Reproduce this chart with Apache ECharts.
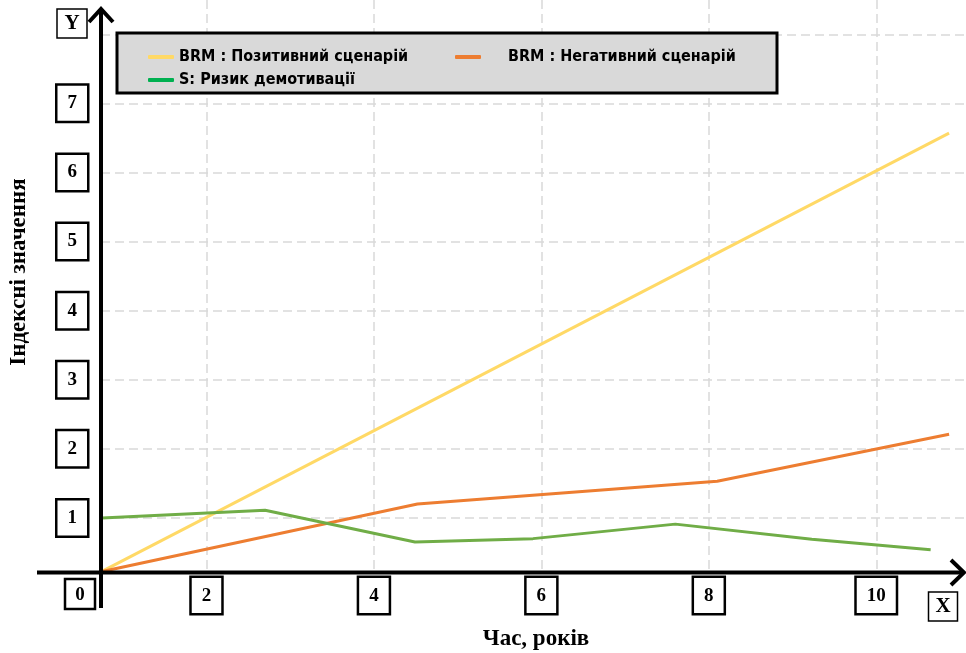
<!DOCTYPE html>
<html>
<head>
<meta charset="utf-8">
<script src="https://cdn.jsdelivr.net/npm/echarts@6/dist/echarts.min.js"></script>
<style>html,body{margin:0;padding:0;background:#fff;}#c{width:966px;height:653px;}</style>
</head>
<body>
<div id="c"></div>
<script>
// ---- data ----
const seriesNames = ['BRM : Позитивний сценарій', 'BRM : Негативний сценарій', 'S: Ризик демотивації'];
const positiveX = [0.74, 10.87];
const positiveY = [0.22, 6.57];
const negativeX = [0.74, 4.52, 8.10, 10.87];
const negativeY = [0.22, 1.20, 1.53, 2.21];
const riskX = [0.75, 2.70, 4.49, 5.90, 7.60, 9.23, 10.65];
const riskY = [1.00, 1.11, 0.65, 0.70, 0.91, 0.69, 0.54];
const xTickLabels = [2, 4, 6, 8, 10];
const yTickLabels = [1, 2, 3, 4, 5, 6, 7];
const xTitle = 'Час, років';
const yTitle = 'Індексні значення';

const pairs = (xs, ys) => xs.map((x, i) => [x, ys[i]]);
const serif = '"Liberation Serif", "Times New Roman", serif';
const narrow = '"Liberation Sans Narrow", "DejaVu Sans Condensed", "Liberation Sans", sans-serif';

const boxLabel = {
  fontFamily: serif, fontWeight: 'bold', fontSize: 19, color: '#000',
  borderColor: '#000', borderWidth: 2.5, backgroundColor: '#fff',
  padding: [9, 10, 7, 10]
};
const split = { show: true, showMinLine: false, showMaxLine: false,
  lineStyle: { color: '#d9d9d9', width: 1.5, type: [9, 5] } };

const chart = echarts.init(document.getElementById('c'), null, { renderer: 'canvas' });
chart.setOption({
  animation: false,
  backgroundColor: '#fff',
  grid: { left: 101, right: -2, top: -2, bottom: 81 },
  xAxis: {
    type: 'value', min: 0.74, max: 11.072, minInterval: 2, maxInterval: 2,
    axisLine: { show: false }, axisTick: { show: false },
    splitLine: split,
    axisLabel: Object.assign({ margin: 6, customValues: xTickLabels }, boxLabel)
  },
  yAxis: {
    type: 'value', min: 0.217, max: 8.496, minInterval: 1, maxInterval: 1,
    axisLine: { show: false }, axisTick: { show: false },
    splitLine: split,
    axisLabel: Object.assign({ margin: 14, customValues: yTickLabels }, boxLabel)
  },
  legend: [
    {
      z: 10, orient: 'vertical', left: 143, top: 43, itemGap: 5,
      itemWidth: 26, itemHeight: 4, icon: 'roundRect',
      textStyle: { fontFamily: narrow, fontWeight: 'bold', fontSize: 16, color: '#000', lineHeight: 18 },
      data: [
        { name: seriesNames[0], itemStyle: { color: '#ffd966' } },
        { name: seriesNames[2], itemStyle: { color: '#00b050' } }
      ]
    },
    {
      z: 10, orient: 'horizontal', left: 450, top: 43,
      itemWidth: 26, itemHeight: 4, icon: 'roundRect',
      textStyle: { fontFamily: narrow, fontWeight: 'bold', fontSize: 16, color: '#000', lineHeight: 18, padding: [0, 0, 0, 22] },
      data: [ { name: seriesNames[1], itemStyle: { color: '#ed7d31' } } ]
    }
  ],
  series: [
    { name: seriesNames[0], type: 'line', data: pairs(positiveX, positiveY), symbol: 'none',
      lineStyle: { color: '#ffd966', width: 3 }, itemStyle: { color: '#ffd966' } },
    { name: seriesNames[1], type: 'line', data: pairs(negativeX, negativeY), symbol: 'none',
      lineStyle: { color: '#ed7d31', width: 3 }, itemStyle: { color: '#ed7d31' } },
    { name: seriesNames[2], type: 'line', data: pairs(riskX, riskY), symbol: 'none',
      lineStyle: { color: '#70ad47', width: 3 }, itemStyle: { color: '#70ad47' } }
  ],
  graphic: { elements: [
    // legend box
    { type: 'rect', z: 5, shape: { x: 117, y: 33, width: 660, height: 60 },
      style: { fill: '#d9d9d9', stroke: '#000', lineWidth: 3 } },
    // axes with open arrows
    { type: 'line', z: 6, shape: { x1: 37, y1: 572.5, x2: 963, y2: 572.5 }, style: { stroke: '#000', lineWidth: 4 } },
    { type: 'line', z: 6, shape: { x1: 101, y1: 10, x2: 101, y2: 608 }, style: { stroke: '#000', lineWidth: 4 } },
    { type: 'polyline', z: 6, shape: { points: [[89, 22], [101, 9], [113, 22]] }, style: { stroke: '#000', lineWidth: 4, fill: null } },
    { type: 'polyline', z: 6, shape: { points: [[951, 560], [964, 572.5], [951, 585]] }, style: { stroke: '#000', lineWidth: 4, fill: null } },
    // Y box
    { type: 'rect', z: 6, shape: { x: 57, y: 9, width: 30, height: 29 }, style: { fill: '#fff', stroke: '#000', lineWidth: 1.5 } },
    { type: 'text', z: 7, x: 72, y: 24, style: { text: 'Y', font: 'bold 21px ' + serif, fill: '#000',
      align: 'center', verticalAlign: 'middle', textAlign: 'center', textVerticalAlign: 'middle' } },
    // X box
    { type: 'rect', z: 6, shape: { x: 928.5, y: 592, width: 29, height: 29 }, style: { fill: '#fff', stroke: '#000', lineWidth: 1.5 } },
    { type: 'text', z: 7, x: 943, y: 607, style: { text: 'X', font: 'bold 21px ' + serif, fill: '#000',
      align: 'center', verticalAlign: 'middle', textAlign: 'center', textVerticalAlign: 'middle' } },
    // 0 box
    { type: 'rect', z: 6, shape: { x: 65, y: 579, width: 30, height: 30 }, style: { fill: '#fff', stroke: '#000', lineWidth: 2.5 } },
    { type: 'text', z: 7, x: 80, y: 595, style: { text: '0', font: 'bold 19px ' + serif, fill: '#000',
      align: 'center', verticalAlign: 'middle', textAlign: 'center', textVerticalAlign: 'middle' } },
    // axis titles
    { type: 'text', z: 7, x: 536, y: 639, style: { text: xTitle, font: 'bold 23px ' + serif, fill: '#000',
      align: 'center', verticalAlign: 'middle', textAlign: 'center', textVerticalAlign: 'middle' } },
    { type: 'text', z: 7, x: 19, y: 272, rotation: Math.PI / 2, style: { text: yTitle, font: 'bold 23px ' + serif, fill: '#000',
      align: 'center', verticalAlign: 'middle', textAlign: 'center', textVerticalAlign: 'middle' } }
  ] }
});
</script>
</body>
</html>
